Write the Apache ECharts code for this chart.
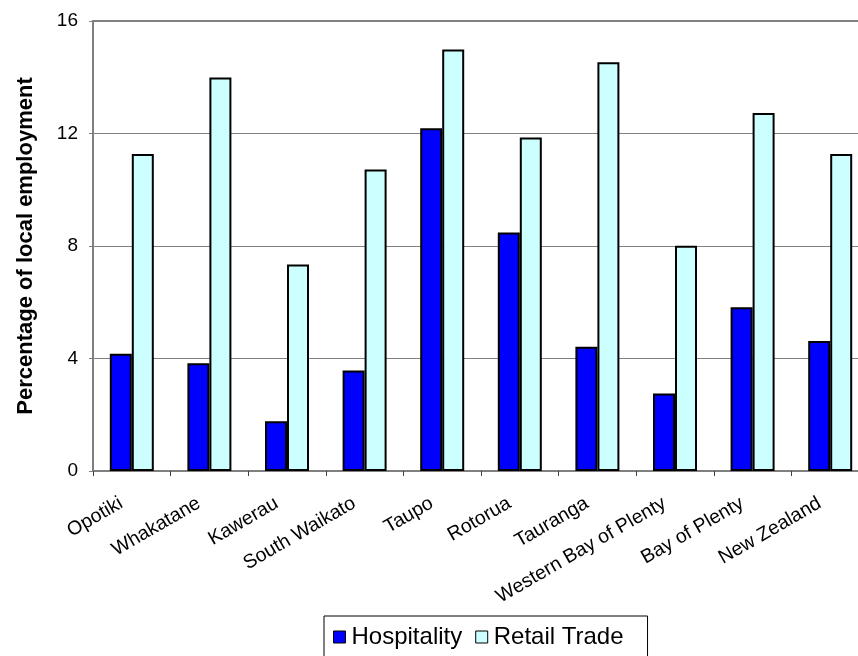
<!DOCTYPE html>
<html>
<head>
<meta charset="utf-8">
<style>
  html, body { margin: 0; padding: 0; background: #ffffff; }
  #chart { width: 858px; height: 656px; }
</style>
<script src="https://cdn.jsdelivr.net/npm/echarts@6/dist/echarts.min.js"></script>
</head>
<body>
<div id="chart"></div>
<script>
// Share of local employment by district, two industries
const regions = ['Opotiki', 'Whakatane', 'Kawerau', 'South Waikato', 'Taupo', 'Rotorua',
  'Tauranga', 'Western Bay of Plenty', 'Bay of Plenty', 'New Zealand'];
const hospitality = [4.17, 3.83, 1.77, 3.57, 12.19, 8.48, 4.42, 2.76, 5.82, 4.62];
const retailTrade = [11.27, 13.99, 7.34, 10.72, 14.99, 11.86, 14.53, 8.01, 12.73, 11.27];
const yTicks = { min: 0, max: 16, interval: 4 };

const FONT = '"Liberation Sans", Arial, Helvetica, sans-serif';
const chart = echarts.init(document.getElementById('chart'), null, { renderer: 'canvas' });

chart.setOption({
  backgroundColor: '#ffffff',
  animation: false,
  textStyle: { fontFamily: FONT },
  // plot area runs a little past the right edge of the canvas
  grid: {
    left: 93, top: 21, width: 776, height: 450,
    outerBoundsMode: 'none',
    containLabel: false,
    show: true, borderColor: '#808080', borderWidth: 2, backgroundColor: 'transparent'
  },
  legend: {
    left: 324, top: 616,
    orient: 'horizontal',
    borderColor: '#000000', borderWidth: 1,
    padding: [9, 24, 12, 9],
    itemGap: 13, itemWidth: 12, itemHeight: 12,
    icon: 'rect',
    itemStyle: { borderColor: '#000000', borderWidth: 1 },
    textStyle: { fontFamily: FONT, fontSize: 24, color: '#000000', padding: [0, 0, 0, 1] },
    data: ['Hospitality', 'Retail Trade']
  },
  xAxis: {
    type: 'category',
    data: regions,
    boundaryGap: true,
    axisLine: { lineStyle: { color: '#808080', width: 2 } },
    axisTick: { show: true, length: 5, lineStyle: { color: '#404040', width: 1 } },
    axisLabel: {
      interval: 0, rotate: 30, margin: 25,
      fontFamily: FONT, fontSize: 19.5, color: '#000000',
      padding: [0, 12, 0, 0]
    },
    splitLine: { show: false }
  },
  yAxis: {
    type: 'value',
    min: yTicks.min, max: yTicks.max, interval: yTicks.interval,
    name: 'Percentage of local employment',
    nameLocation: 'middle',
    nameGap: 56,
    nameTextStyle: { fontFamily: FONT, fontSize: 22, fontWeight: 'bold', color: '#000000' },
    axisLine: { show: true, lineStyle: { color: '#808080', width: 2 } },
    axisTick: { show: true, length: 4, lineStyle: { color: '#808080', width: 1 } },
    axisLabel: { margin: 15, fontFamily: FONT, fontSize: 19, color: '#000000' },
    splitLine: { show: true, lineStyle: { color: '#808080', width: 1 } }
  },
  series: [
    {
      name: 'Hospitality',
      type: 'bar',
      data: hospitality,
      barWidth: 22,
      barGap: '0%',
      itemStyle: { color: '#0000ff', borderColor: '#000000', borderWidth: 2 }
    },
    {
      name: 'Retail Trade',
      type: 'bar',
      data: retailTrade,
      barWidth: 22,
      barGap: '0%',
      itemStyle: { color: '#ccffff', borderColor: '#000000', borderWidth: 2 }
    }
  ]
});
</script>
</body>
</html>
